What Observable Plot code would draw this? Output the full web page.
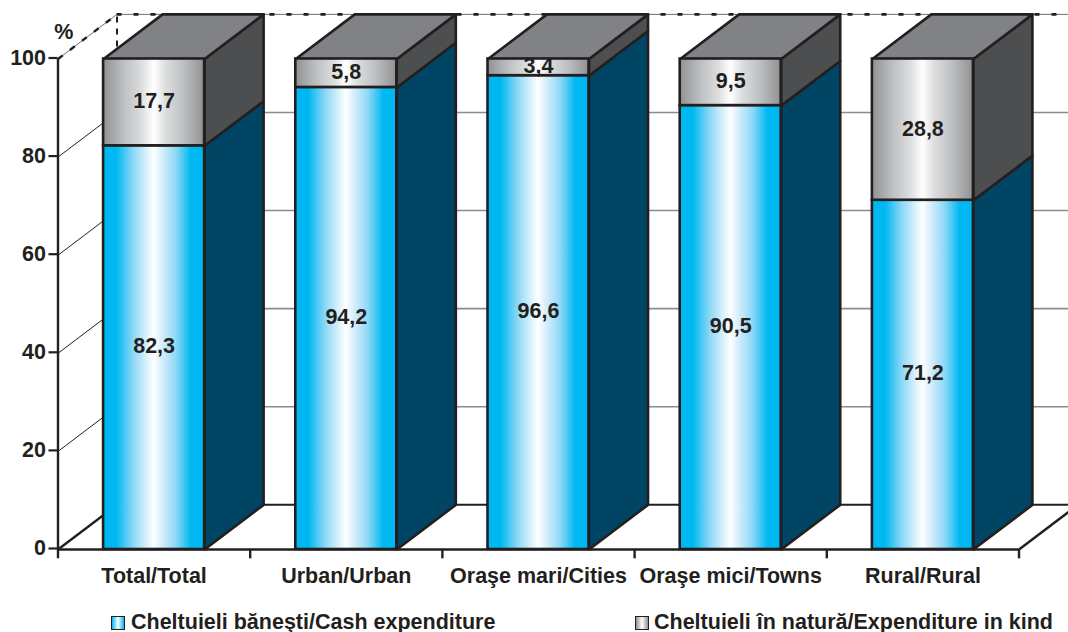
<!DOCTYPE html>
<html><head><meta charset="utf-8">
<script src="https://cdn.jsdelivr.net/npm/d3@7"></script>
<script src="https://cdn.jsdelivr.net/npm/@observablehq/plot@0.6"></script>
<style>
html,body{margin:0;padding:0;background:#fff;overflow:hidden;width:1068px;height:632px}
#legend{position:relative;height:30px;font:bold 21.5px "Liberation Sans",Arial,sans-serif;color:#231f20}
#legend span{position:absolute;top:10px;white-space:nowrap;line-height:20px;height:20px}
#legend i{position:absolute;top:14px;width:12px;height:12px;border:1.5px solid #231f20}
</style></head><body>
<div id="chart"></div>
<div id="legend"></div>
<script>
const categories = ["Total/Total","Urban/Urban","Oraşe mari/Cities","Oraşe mici/Towns","Rural/Rural"];
const cash = [82.3,94.2,96.6,90.5,71.2];
const kind = [17.7,5.8,3.4,9.5,28.8];
const cashLabels = ["82,3","94,2","96,6","90,5","71,2"];
const kindLabels = ["17,7","5,8","3,4","9,5","28,8"];
const yTicks = [0,20,40,60,80,100];
const seriesNames = ["Cheltuieli băneşti/Cash expenditure","Cheltuieli în natură/Expenditure in kind"];

const ink="#231f20";
const xEnd=5.2575, halfW=0.2628, dx=0.307, dy=9.1;
const bars=categories.map((c,i)=>({c,i,x:i+.5,x1:i+.5-halfW,x2:i+.5+halfW,cash:cash[i],kind:kind[i]}));

const poly=(id,pts)=>pts.map(([x,y])=>({id,x,y}));
const rightLow=bars.flatMap(b=>poly("l"+b.i,[[b.x2,0],[b.x2+dx,dy],[b.x2+dx,b.cash+dy],[b.x2,b.cash]]));
const rightUp=bars.flatMap(b=>poly("u"+b.i,[[b.x2,b.cash],[b.x2+dx,b.cash+dy],[b.x2+dx,100+dy],[b.x2,100]]));
const topF=bars.flatMap(b=>poly("t"+b.i,[[b.x1,100],[b.x1+dx,100+dy],[b.x2+dx,100+dy],[b.x2,100]]));
const face=(data,fill)=>Plot.line(data,{x:"x",y:"y",z:"id",fill,stroke:ink,strokeWidth:2.6,curve:"linear-closed",strokeLinejoin:"round"});

const defs=()=>{
  const g=document.createElementNS("http://www.w3.org/2000/svg","g");
  g.innerHTML=`<defs>
  <linearGradient id="gBlue" x1="0" x2="1" y1="0" y2="0">
   <stop offset="0" stop-color="#00b8f1"/><stop offset=".13" stop-color="#00b8f1"/>
   <stop offset=".3" stop-color="#8ed8f6"/><stop offset=".42" stop-color="#d4effb"/><stop offset=".5" stop-color="#ffffff"/>
   <stop offset=".6" stop-color="#cdeafa"/><stop offset=".72" stop-color="#8ed8f6"/><stop offset=".87" stop-color="#00b8f1"/><stop offset="1" stop-color="#00b8f1"/>
  </linearGradient>
  <linearGradient id="gGrey" x1="0" x2="1" y1="0" y2="0">
   <stop offset="0" stop-color="#8f9193"/><stop offset=".2" stop-color="#bcbec0"/>
   <stop offset=".38" stop-color="#dcddde"/><stop offset=".5" stop-color="#ffffff"/>
   <stop offset=".62" stop-color="#dcddde"/><stop offset=".8" stop-color="#bcbec0"/><stop offset="1" stop-color="#8f9193"/>
  </linearGradient></defs>`;
  return g;
};

const backVals=[20,40,60,80];
const txt={fontWeight:"bold",fontSize:21.5,fill:ink};

const plot=Plot.plot({
  width:1068,height:602,
  marginLeft:57.5,marginRight:0,marginTop:58.5,marginBottom:53,
  style:{fontFamily:"'Liberation Sans',Arial,sans-serif",background:"#fff"},
  x:{domain:[0,xEnd]},
  y:{domain:[0,100]},
  marks:[
    defs,
    Plot.ruleY(backVals,{y:d=>d+dy,x1:dx,x2:xEnd,stroke:"#8a8c8e",strokeWidth:1.6}),
    Plot.ruleY([0],{y:d=>d+dy,x1:dx,x2:xEnd,stroke:ink,strokeWidth:2}),
    Plot.ruleY([100],{y:d=>d+dy,x1:dx,x2:xEnd,stroke:"#6d6e71",strokeWidth:1}),
    Plot.ruleY([100],{y:d=>d+dy,x1:dx,x2:xEnd,stroke:ink,strokeWidth:2.6,strokeDasharray:"5 12"}),
    Plot.ruleX([dx],{y1:100,y2:100+dy,stroke:ink,strokeWidth:2,strokeDasharray:"6 6"}),
    Plot.link(backVals,{x1:0,x2:dx,y1:d=>d,y2:d=>d+dy,stroke:ink,strokeWidth:1}),
    Plot.link([100],{x1:0,x2:dx,y1:d=>d,y2:d=>d+dy,stroke:"#6d6e71",strokeWidth:1}),
    Plot.link([100],{x1:0,x2:dx,y1:d=>d,y2:d=>d+dy,stroke:ink,strokeWidth:2.4,strokeDasharray:"6 9"}),
    Plot.link([0],{x1:0,x2:dx,y1:d=>d,y2:d=>d+dy,stroke:ink,strokeWidth:2.4}),
    Plot.link([0],{x1:5,x2:xEnd,y1:0,y2:dy*(xEnd-5)/dx,stroke:ink,strokeWidth:2.4}),
    Plot.ruleX([0],{y1:-1.9,y2:100,stroke:ink,strokeWidth:2.4}),
    Plot.ruleX([1,2,3,4,5],{y1:-1.9,y2:0,stroke:ink,strokeWidth:2.4}),
    Plot.ruleY([0],{x1:0,x2:5,stroke:ink,strokeWidth:2.6}),
    face(rightLow,"#004564"),
    face(rightUp,"#4d4e50"),
    face(topF,"#808285"),
    Plot.rect(bars,{x1:"x1",x2:"x2",y1:0,y2:"cash",fill:"url(#gBlue)",stroke:ink,strokeWidth:2.6}),
    Plot.rect(bars,{x1:"x1",x2:"x2",y1:"cash",y2:100,fill:"url(#gGrey)",stroke:ink,strokeWidth:2.6}),
    Plot.text(bars,{x:"x",y:d=>d.cash/2,dy:-1.5,text:d=>cashLabels[d.i],...txt}),
    Plot.text(bars,{x:"x",y:d=>d.cash+d.kind/2,dy:-1,text:d=>kindLabels[d.i],...txt}),
    Plot.axisY({ticks:yTicks,tickSize:9,tickPadding:3,label:null,fontSize:21.5,fontWeight:"bold",color:ink,strokeWidth:2.2,dy:-1}),
    Plot.axisX({ticks:bars.map(b=>b.x),tickFormat:v=>categories[Math.floor(v)],tickSize:0,tickPadding:18,label:null,fontSize:21.5,fontWeight:"bold",color:ink}),
    Plot.text(["%"],{x:[0.03],y:[105.5],text:d=>d,...txt})
  ]
});
document.getElementById("chart").appendChild(plot);
document.querySelector("#chart svg").style.display="block";

const lg=document.getElementById("legend");
lg.innerHTML=`<i style="left:111px;background:linear-gradient(90deg,#00b8f1,#fff 50%,#00b8f1)"></i><span style="left:131px">${seriesNames[0]}</span>
<i style="left:635px;background:linear-gradient(90deg,#8f9193,#fff 50%,#8f9193)"></i><span style="left:654px">${seriesNames[1]}</span>`;
</script></body></html>
